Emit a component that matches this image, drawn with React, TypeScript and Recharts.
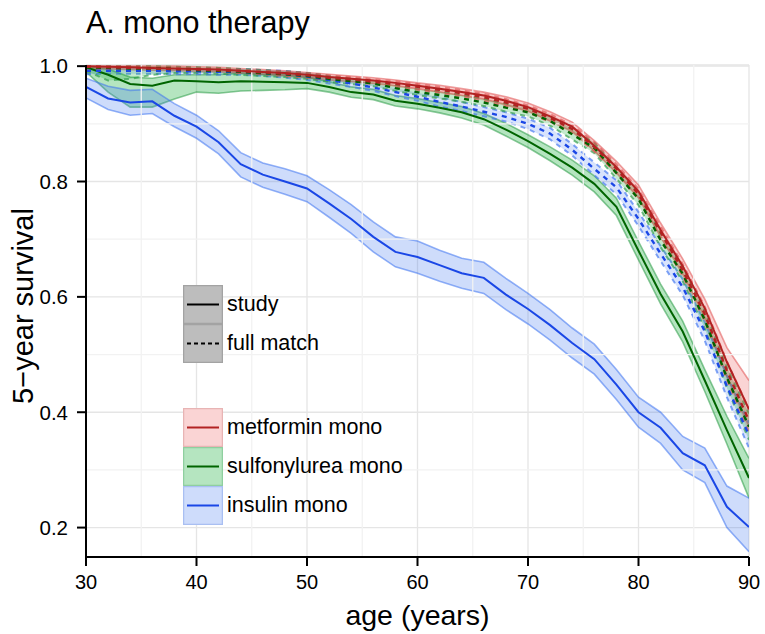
import React from 'react'
import {
  ComposedChart,
  Area,
  Line,
  XAxis,
  YAxis,
  CartesianGrid,
  ReferenceLine,
  Legend,
} from 'recharts'

// age grid (years)
const ages = [30, 32, 34, 36, 38, 40, 42, 44, 46, 48, 50, 52, 54, 56, 58, 60, 62, 64, 66, 68, 70, 72, 74, 76, 78, 80, 82, 84, 86, 88, 90]

// metformin mono
const metStudyMid = [1.0, 0.999, 0.998, 0.997, 0.996, 0.995, 0.994, 0.992, 0.99, 0.988, 0.985, 0.981, 0.978, 0.975, 0.971, 0.966, 0.961, 0.955, 0.949, 0.94, 0.929, 0.913, 0.895, 0.862, 0.825, 0.783, 0.716, 0.653, 0.58, 0.487, 0.405]
const metStudyLo = [0.995, 0.995, 0.994, 0.993, 0.992, 0.991, 0.99, 0.988, 0.986, 0.984, 0.981, 0.976, 0.973, 0.97, 0.966, 0.961, 0.955, 0.949, 0.943, 0.933, 0.922, 0.905, 0.887, 0.853, 0.815, 0.772, 0.704, 0.64, 0.564, 0.462, 0.375]
const metStudyHi = [1.0, 1.0, 1.0, 1.0, 1.0, 0.999, 0.998, 0.996, 0.994, 0.992, 0.989, 0.986, 0.983, 0.98, 0.976, 0.971, 0.967, 0.961, 0.955, 0.947, 0.936, 0.921, 0.903, 0.871, 0.835, 0.794, 0.728, 0.666, 0.596, 0.512, 0.455]
const metFullMid = [0.999, 0.998, 0.997, 0.996, 0.995, 0.994, 0.993, 0.991, 0.989, 0.987, 0.984, 0.98, 0.977, 0.973, 0.969, 0.964, 0.959, 0.953, 0.946, 0.937, 0.926, 0.91, 0.891, 0.86, 0.822, 0.778, 0.712, 0.646, 0.57, 0.472, 0.385]
const metFullLo = [0.996, 0.995, 0.994, 0.993, 0.992, 0.991, 0.99, 0.988, 0.986, 0.983, 0.98, 0.976, 0.973, 0.969, 0.964, 0.959, 0.954, 0.948, 0.94, 0.931, 0.92, 0.903, 0.884, 0.852, 0.814, 0.769, 0.702, 0.635, 0.557, 0.456, 0.365]
const metFullHi = [1.0, 1.0, 1.0, 0.999, 0.998, 0.997, 0.996, 0.994, 0.992, 0.991, 0.988, 0.984, 0.981, 0.977, 0.974, 0.969, 0.964, 0.958, 0.952, 0.943, 0.932, 0.917, 0.898, 0.868, 0.83, 0.787, 0.722, 0.657, 0.583, 0.488, 0.405]

// sulfonylurea mono
const suStudyMid = [0.998, 0.985, 0.969, 0.966, 0.975, 0.974, 0.972, 0.974, 0.973, 0.972, 0.971, 0.964, 0.955, 0.951, 0.94, 0.935, 0.928, 0.92, 0.908, 0.89, 0.87, 0.848, 0.824, 0.796, 0.756, 0.68, 0.605, 0.54, 0.455, 0.369, 0.286]
const suStudyLo = [0.99, 0.955, 0.929, 0.929, 0.943, 0.955, 0.953, 0.957, 0.958, 0.959, 0.961, 0.955, 0.946, 0.942, 0.931, 0.926, 0.919, 0.91, 0.898, 0.879, 0.859, 0.836, 0.811, 0.782, 0.741, 0.664, 0.588, 0.522, 0.436, 0.345, 0.251]
const suStudyHi = [1.0, 0.995, 0.981, 0.979, 0.985, 0.985, 0.985, 0.988, 0.986, 0.985, 0.981, 0.973, 0.964, 0.96, 0.949, 0.944, 0.937, 0.93, 0.918, 0.901, 0.881, 0.86, 0.837, 0.81, 0.771, 0.696, 0.622, 0.558, 0.474, 0.393, 0.32]
const suFullMid = [0.998, 0.997, 0.996, 0.996, 0.995, 0.993, 0.992, 0.99, 0.988, 0.986, 0.983, 0.978, 0.974, 0.97, 0.962, 0.955, 0.95, 0.944, 0.937, 0.928, 0.92, 0.905, 0.882, 0.858, 0.815, 0.77, 0.698, 0.64, 0.56, 0.46, 0.375]
const suFullLo = [0.992, 0.975, 0.978, 0.985, 0.988, 0.988, 0.987, 0.985, 0.983, 0.981, 0.978, 0.973, 0.969, 0.965, 0.957, 0.95, 0.944, 0.938, 0.931, 0.921, 0.913, 0.897, 0.873, 0.849, 0.805, 0.759, 0.686, 0.627, 0.545, 0.442, 0.352]
const suFullHi = [1.0, 1.0, 1.0, 1.0, 0.999, 0.998, 0.997, 0.995, 0.993, 0.991, 0.988, 0.983, 0.979, 0.975, 0.967, 0.96, 0.956, 0.95, 0.943, 0.935, 0.927, 0.913, 0.891, 0.867, 0.825, 0.781, 0.71, 0.653, 0.575, 0.478, 0.398]

// insulin mono
const inStudyMid = [0.964, 0.944, 0.937, 0.939, 0.914, 0.895, 0.868, 0.83, 0.812, 0.8, 0.788, 0.762, 0.735, 0.704, 0.678, 0.669, 0.655, 0.641, 0.633, 0.604, 0.579, 0.551, 0.52, 0.492, 0.448, 0.4, 0.373, 0.329, 0.308, 0.236, 0.201]
const inStudyLo = [0.945, 0.925, 0.915, 0.918, 0.895, 0.875, 0.848, 0.808, 0.79, 0.778, 0.765, 0.738, 0.71, 0.678, 0.652, 0.641, 0.627, 0.615, 0.606, 0.578, 0.553, 0.525, 0.494, 0.466, 0.422, 0.374, 0.346, 0.3, 0.278, 0.2, 0.158]
const inStudyHi = [0.979, 0.965, 0.958, 0.96, 0.935, 0.915, 0.888, 0.85, 0.832, 0.822, 0.81, 0.786, 0.76, 0.73, 0.704, 0.697, 0.681, 0.667, 0.66, 0.632, 0.606, 0.578, 0.546, 0.518, 0.474, 0.426, 0.4, 0.358, 0.338, 0.272, 0.251]
const inFullMid = [0.992, 0.992, 0.992, 0.992, 0.991, 0.991, 0.99, 0.99, 0.988, 0.986, 0.982, 0.976, 0.97, 0.963, 0.955, 0.947, 0.938, 0.93, 0.921, 0.912, 0.9, 0.883, 0.855, 0.822, 0.79, 0.735, 0.675, 0.617, 0.54, 0.445, 0.36]
const inFullLo = [0.986, 0.987, 0.987, 0.987, 0.986, 0.986, 0.985, 0.985, 0.983, 0.98, 0.976, 0.97, 0.964, 0.957, 0.948, 0.94, 0.93, 0.922, 0.913, 0.904, 0.891, 0.873, 0.845, 0.811, 0.778, 0.723, 0.662, 0.603, 0.524, 0.426, 0.338]
const inFullHi = [0.998, 0.997, 0.997, 0.997, 0.996, 0.996, 0.995, 0.995, 0.993, 0.992, 0.988, 0.982, 0.976, 0.969, 0.962, 0.954, 0.946, 0.938, 0.929, 0.92, 0.909, 0.893, 0.865, 0.833, 0.802, 0.747, 0.688, 0.631, 0.556, 0.464, 0.382]

const xTicks = [30, 40, 50, 60, 70, 80, 90]
const yTicks = [0.2, 0.4, 0.6, 0.8, 1.0]
const xMinor = [35, 45, 55, 65, 75, 85]
const yMinor = [0.3, 0.5, 0.7, 0.9]

const FONT = '"Liberation Sans", Arial, Helvetica, sans-serif'

const RED = { line: '#b22222', fill: '#e83a3a', fillOp: 0.22, edge: '#e05050', keyFill: '#fad4d4', keyEdge: '#e8b4b4' }
const GREEN = { line: '#006400', fill: '#1fb040', fillOp: 0.33, edge: '#2a9a45', keyFill: '#b5e5c0', keyEdge: '#8fcf9f' }
const BLUE = { line: '#1a47e6', fill: '#3d73f0', fillOp: 0.25, edge: '#3d73f0', keyFill: '#cedcfb', keyEdge: '#a9bff2' }

const series = [
  { id: 'suStudy', mid: suStudyMid, lo: suStudyLo, hi: suStudyHi, pal: GREEN, dashed: false },
  { id: 'inStudy', mid: inStudyMid, lo: inStudyLo, hi: inStudyHi, pal: BLUE, dashed: false },
  { id: 'metStudy', mid: metStudyMid, lo: metStudyLo, hi: metStudyHi, pal: RED, dashed: false },
  { id: 'inFull', mid: inFullMid, lo: inFullLo, hi: inFullHi, pal: BLUE, dashed: true },
  { id: 'suFull', mid: suFullMid, lo: suFullLo, hi: suFullHi, pal: GREEN, dashed: true },
  { id: 'metFull', mid: metFullMid, lo: metFullLo, hi: metFullHi, pal: RED, dashed: true },
]

const data = ages.map((age, i) => {
  const row: Record<string, any> = { age }
  series.forEach((s) => {
    row[s.id] = s.mid[i]
    row[s.id + 'Band'] = [s.lo[i], s.hi[i]]
  })
  return row
})

const KeyBox = ({ fill, edge, line, dash }: { fill: string; edge: string; line: string; dash?: string }) => (
  <svg width={40} height={39} style={{ display: 'block' }}>
    <rect x={0.5} y={0.5} width={39} height={38} fill={fill} stroke={edge} strokeWidth={1.5} />
    <line x1={4} x2={36} y1={19.5} y2={19.5} stroke={line} strokeWidth={2} strokeDasharray={dash} />
  </svg>
)

const LegendRow = ({ label, children }: { label: string; children: React.ReactNode }) => (
  <div style={{ display: 'flex', alignItems: 'center', height: 39 }}>
    {children}
    <span style={{ marginLeft: 4, fontSize: 21.5, color: '#000', fontFamily: FONT }}>{label}</span>
  </div>
)

const renderLegend = () => (
  <div style={{ width: 280 }}>
    <LegendRow label="study">
      <KeyBox fill="#bdbdbd" edge="#a3a3a3" line="#000" />
    </LegendRow>
    <LegendRow label="full match">
      <KeyBox fill="#bdbdbd" edge="#a3a3a3" line="#000" dash="4 3" />
    </LegendRow>
    <div style={{ height: 45 }} />
    <LegendRow label="metformin mono">
      <KeyBox fill={RED.keyFill} edge={RED.keyEdge} line={RED.line} />
    </LegendRow>
    <LegendRow label="sulfonylurea mono">
      <KeyBox fill={GREEN.keyFill} edge={GREEN.keyEdge} line={GREEN.line} />
    </LegendRow>
    <LegendRow label="insulin mono">
      <KeyBox fill={BLUE.keyFill} edge={BLUE.keyEdge} line={BLUE.line} />
    </LegendRow>
  </div>
)

export default function App() {
  return (
    <div style={{ position: 'absolute', left: 0, top: 0, width: 765, height: 634, background: '#fff', fontFamily: FONT }}>
      <ComposedChart width={765} height={634} data={data} margin={{ top: 65, right: 16, bottom: 0, left: 0 }}>
        <CartesianGrid stroke="#e5e5e5" strokeWidth={1.3} />
        {xMinor.map((x) => (
          <ReferenceLine key={'mx' + x} x={x} stroke="#f2f2f2" strokeWidth={1.3} />
        ))}
        {yMinor.map((y) => (
          <ReferenceLine key={'my' + y} y={y} stroke="#f2f2f2" strokeWidth={1.3} />
        ))}
        <XAxis
          dataKey="age"
          type="number"
          domain={[30, 90]}
          ticks={xTicks}
          allowDataOverflow
          height={77}
          tickSize={9}
          tickMargin={9}
          tick={{ fontSize: 20, fill: '#000', fontFamily: FONT }}
          axisLine={{ stroke: '#000', strokeWidth: 2 }}
          tickLine={{ stroke: '#000', strokeWidth: 2 }}
          label={{
            content: () => (
              <text x={417.5} y={625} textAnchor="middle" fontSize={28.5} fontFamily={FONT} fill="#000">
                age (years)
              </text>
            ),
          }}
        />
        <YAxis
          type="number"
          domain={[0.149, 1.002]}
          ticks={yTicks}
          allowDataOverflow
          width={86}
          tickSize={9}
          tickMargin={9}
          tickFormatter={(v: number) => v.toFixed(1)}
          tick={{ fontSize: 20.5, fill: '#000', fontFamily: FONT }}
          axisLine={{ stroke: '#000', strokeWidth: 2 }}
          tickLine={{ stroke: '#000', strokeWidth: 2 }}
          label={{
            content: () => (
              <text
                x={33}
                y={306}
                transform="rotate(-90, 33, 306)"
                textAnchor="middle"
                fontSize={29}
                fontFamily={FONT}
                fill="#000"
              >
                5−year survival
              </text>
            ),
          }}
        />
        {series.map((s) => (
          <Area
            key={s.id + 'Band'}
            type="linear"
            dataKey={s.id + 'Band'}
            fill={s.pal.fill}
            fillOpacity={s.dashed ? s.pal.fillOp * 0.8 : s.pal.fillOp}
            stroke={s.pal.edge}
            strokeOpacity={s.dashed ? 0.65 : 0.55}
            strokeWidth={s.dashed ? 2 : 1.6}
            strokeDasharray={s.dashed ? '5 5' : undefined}
            dot={false}
            activeDot={false}
            isAnimationActive={false}
          />
        ))}
        {series.map((s) => (
          <Line
            key={s.id}
            type="linear"
            dataKey={s.id}
            stroke={s.pal.line}
            strokeWidth={s.dashed ? 2.4 : 2}
            strokeDasharray={s.dashed ? '5 5' : undefined}
            dot={false}
            activeDot={false}
            isAnimationActive={false}
          />
        ))}
        <Legend
          content={renderLegend}
          layout="vertical"
          align="center"
          verticalAlign="middle"
          wrapperStyle={{ left: 183, top: 285, width: 280 }}
        />
      </ComposedChart>
      <div style={{ position: 'absolute', left: 86, top: 7, fontSize: 30.5, lineHeight: '30px', color: '#000' }}>
        A. mono therapy
      </div>
    </div>
  )
}
